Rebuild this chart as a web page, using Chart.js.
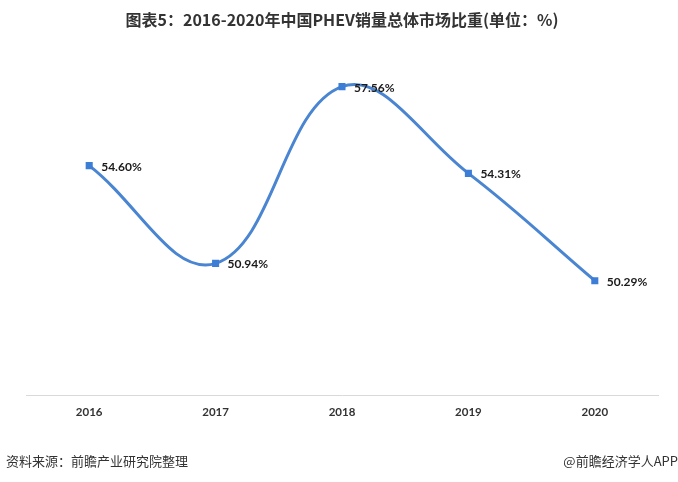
<!DOCTYPE html>
<html>
<head>
<meta charset="utf-8">
<script src="https://cdn.jsdelivr.net/npm/chart.js@4/dist/chart.umd.min.js"></script>
<style>
  html, body { margin: 0; padding: 0; background: #fff; }
  #wrap { position: relative; width: 678px; height: 482px; }
</style>
</head>
<body>
<div id="wrap"><canvas id="phevChart" width="678" height="482"></canvas></div>
<script>
// chart data
const years = ["2016", "2017", "2018", "2019", "2020"];
const shares = [54.60, 50.94, 57.56, 54.31, 50.29];

const blue = "#4a85d2";

// draws the value labels to the right of each point, plus the source line
const labelPlugin = {
  id: "valueLabels",
  afterDatasetsDraw(chart) {
    const c = chart.ctx;
    const meta = chart.getDatasetMeta(0);
    c.save();
    c.font = "bold 12px Lato, 'Open Sans', sans-serif";
    c.fillStyle = "#1a1a1a";
    c.textAlign = "left";
    c.textBaseline = "middle";
    meta.data.forEach((pt, i) => {
      c.fillText(shares[i].toFixed(2) + "%", pt.x + 12, pt.y + 1);
    });
    c.restore();
  },
  afterDraw(chart) {
    const c = chart.ctx;
    c.save();
    c.font = "13px 'Noto Sans CJK SC', sans-serif";
    c.fillStyle = "#333";
    c.textBaseline = "middle";
    c.textAlign = "left";
    c.fillText("资料来源：前瞻产业研究院整理", 6, 461);
    c.textAlign = "right";
    c.fillText("@前瞻经济学人APP", 678, 461);
    c.restore();
  }
};

const ctx = document.getElementById("phevChart").getContext("2d");
const chart = new Chart(ctx, {
  type: "line",
  data: {
    labels: years,
    datasets: [
      {
        data: shares,
        borderColor: blue,
        borderWidth: 3,
        backgroundColor: "#3c7dd6",
        pointStyle: "rect",
        pointRadius: 5,
        pointBorderWidth: 0,
        pointBackgroundColor: "#3c7dd6",
        tension: 0.4,
        fill: false,
      },
    ],
  },
  options: {
    responsive: false,
    animation: false,
    layout: { padding: { left: 26, right: 20, bottom: 61 } },
    plugins: {
      legend: { display: false },
      tooltip: { enabled: false },
      title: {
        display: true,
        text: "图表5：2016-2020年中国PHEV销量总体市场比重(单位：%)",
        color: "#333",
        font: { family: "'Noto Sans CJK SC', sans-serif", size: 16, weight: "bold" },
        padding: { top: 10, bottom: 19 },
      },
    },
    scales: {
      x: {
        offset: true,
        grid: { display: false },
        border: { display: true, color: "#d9d9d9", width: 1 },
        ticks: {
          color: "#333",
          padding: 2,
          font: { family: "Lato, 'Open Sans', sans-serif", size: 11.5, weight: "bold" },
        },
      },
      y: {
        display: false,
        min: 46,
        max: 59,
      },
    },
  },
  plugins: [labelPlugin],
});
</script>
</body>
</html>
